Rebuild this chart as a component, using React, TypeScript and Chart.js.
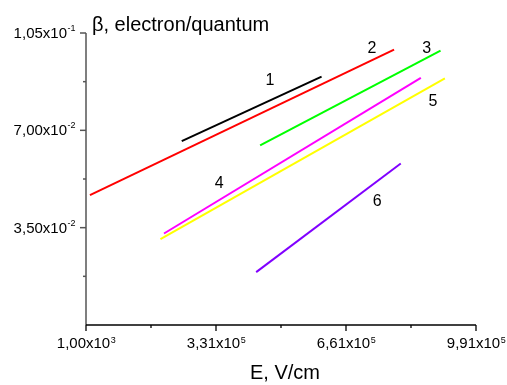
import React, { useEffect, useRef } from "react";
import { Chart, registerables } from "chart.js";

Chart.register(...registerables);

// ---- data ----
const seriesNames = ["1", "2", "3", "4", "5", "6"];
const seriesColors = ["#000000", "#ff0000", "#00ff00", "#ff00ff", "#ffff00", "#8000ff"];
const line1X = [244000, 599000];
const line1Y = [0.0661, 0.0893];
const line2X = [11000, 783000];
const line2Y = [0.0467, 0.099];
const line3X = [443000, 901000];
const line3Y = [0.0646, 0.0987];
const line4X = [199000, 851000];
const line4Y = [0.0329, 0.0889];
const line5X = [190000, 912000];
const line5Y = [0.0309, 0.0887];
const line6X = [433000, 800000];
const line6Y = [0.019, 0.0581];
const seriesX = [line1X, line2X, line3X, line4X, line5X, line6X];
const seriesY = [line1Y, line2Y, line3Y, line4Y, line5Y, line6Y];

// curve label anchors (data coordinates)
const labelX = [468000, 727000, 866000, 339000, 882000, 740000];
const labelY = [0.088, 0.0994, 0.0995, 0.051, 0.0804, 0.0442];

// axes
const xMin = 1000;
const xMax = 991000;
const yMin = 0;
const yMax = 0.105;
const xTicks = [1000, 331000, 661000, 991000];
const xTickMantissa = ["1,00", "3,31", "6,61", "9,91"];
const xTickExp = ["3", "5", "5", "5"];
const xMinor = [166000, 496000, 826000];
const yTicks = [0.035, 0.07, 0.105];
const yTickMantissa = ["3,50", "7,00", "1,05"];
const yTickExp = ["-2", "-2", "-1"];
const yMinor = [0.0175, 0.0525, 0.0875];
const xTitle = "E, V/cm";
const yTitle = "β, electron/quantum";

const FONT = "'Liberation Sans', Arial, sans-serif";

const axesPlugin = {
  id: "customAxes",
  afterDraw(chart: any) {
    const ctx = chart.ctx as CanvasRenderingContext2D;
    const xs = chart.scales.x;
    const ys = chart.scales.y;
    const area = chart.chartArea;
    const left = xs.getPixelForValue(xMin);
    const right = xs.getPixelForValue(xMax);
    const bottom = ys.getPixelForValue(yMin);
    const top = ys.getPixelForValue(yMax);
    ctx.save();
    // y axis
    ctx.strokeStyle = "#555555";
    ctx.lineWidth = 1.5;
    ctx.beginPath();
    ctx.moveTo(left, bottom);
    ctx.lineTo(left, top);
    ctx.stroke();
    yTicks.forEach((v) => {
      const y = ys.getPixelForValue(v);
      ctx.beginPath();
      ctx.moveTo(left, y);
      ctx.lineTo(left - 6, y);
      ctx.stroke();
    });
    yMinor.forEach((v) => {
      const y = ys.getPixelForValue(v);
      ctx.beginPath();
      ctx.moveTo(left, y);
      ctx.lineTo(left - 3, y);
      ctx.stroke();
    });
    // x axis
    ctx.strokeStyle = "#000000";
    ctx.lineWidth = 1.3;
    ctx.beginPath();
    ctx.moveTo(left, bottom);
    ctx.lineTo(right, bottom);
    ctx.stroke();
    xTicks.forEach((v) => {
      const x = xs.getPixelForValue(v);
      ctx.beginPath();
      ctx.moveTo(x, bottom);
      ctx.lineTo(x, bottom + 6);
      ctx.stroke();
    });
    xMinor.forEach((v) => {
      const x = xs.getPixelForValue(v);
      ctx.beginPath();
      ctx.moveTo(x, bottom);
      ctx.lineTo(x, bottom + 3);
      ctx.stroke();
    });

    ctx.fillStyle = "#000000";
    ctx.textBaseline = "alphabetic";
    ctx.textAlign = "left";
    const mainFont = `15px ${FONT}`;
    const supFont = `9px ${FONT}`;
    // y tick labels
    yTicks.forEach((v, i) => {
      const y = ys.getPixelForValue(v);
      const main = yTickMantissa[i] + "x10";
      ctx.font = mainFont;
      const w1 = ctx.measureText(main).width;
      ctx.font = supFont;
      const w2 = ctx.measureText(yTickExp[i]).width;
      const xr = left - 11;
      const x0 = xr - w1 - w2;
      ctx.font = mainFont;
      ctx.fillText(main, x0, y + 5);
      ctx.font = supFont;
      ctx.fillText(yTickExp[i], x0 + w1 + 0.5, y - 2);
    });
    // x tick labels
    xTicks.forEach((v, i) => {
      const x = xs.getPixelForValue(v);
      const main = xTickMantissa[i] + "x10";
      ctx.font = mainFont;
      const w1 = ctx.measureText(main).width;
      ctx.font = supFont;
      const w2 = ctx.measureText(xTickExp[i]).width;
      const x0 = x - (w1 + w2) / 2;
      ctx.font = mainFont;
      ctx.fillText(main, x0, bottom + 23);
      ctx.font = supFont;
      ctx.fillText(xTickExp[i], x0 + w1 + 0.5, bottom + 18);
    });
    // titles
    ctx.font = `20px ${FONT}`;
    ctx.textAlign = "left";
    ctx.fillText(yTitle, left + 6, top - 2);
    ctx.textAlign = "center";
    ctx.fillText(xTitle, (left + right) / 2 + 4, bottom + 54);
    // curve labels
    ctx.font = `16px ${FONT}`;
    ctx.textBaseline = "middle";
    seriesNames.forEach((n, i) => {
      ctx.fillText(n, xs.getPixelForValue(labelX[i]), ys.getPixelForValue(labelY[i]));
    });
    ctx.restore();
  },
};

export default function App() {
  const ref = useRef<HTMLCanvasElement>(null);
  useEffect(() => {
    if (!ref.current) return;
    const chart = new Chart(ref.current, {
      type: "line",
      data: {
        datasets: seriesNames.map((n, i) => ({
          label: n,
          data: seriesX[i].map((x, j) => ({ x, y: seriesY[i][j] })),
          borderColor: seriesColors[i],
          backgroundColor: seriesColors[i],
          borderWidth: 2,
          pointRadius: 0,
          tension: 0,
          fill: false,
        })),
      },
      options: {
        responsive: false,
        animation: false,
        layout: { padding: { left: 86, right: 31, top: 33, bottom: 60 } },
        plugins: { legend: { display: false }, tooltip: { enabled: false } },
        scales: {
          x: { type: "linear", min: xMin, max: xMax, display: false },
          y: { type: "linear", min: yMin, max: yMax, display: false },
        },
      },
      plugins: [axesPlugin],
    });
    return () => chart.destroy();
  }, []);
  return (
    <div style={{ position: "fixed", left: 0, top: 0, width: 507, height: 385, background: "#fff" }}>
      <canvas ref={ref} width={507} height={385} />
    </div>
  );
}
